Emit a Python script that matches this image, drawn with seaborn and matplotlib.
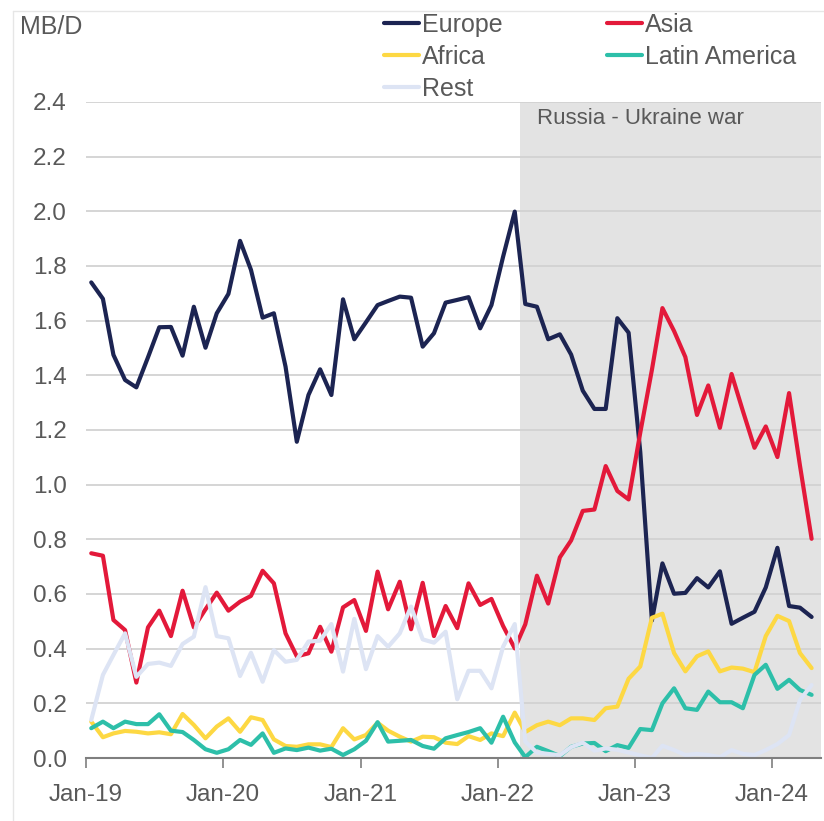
import numpy as np
import pandas as pd
import matplotlib
matplotlib.use("Agg")
import matplotlib.pyplot as plt
from matplotlib.lines import Line2D
import seaborn as sns

# monthly values, Jan-19 .. Apr-24 (MB/D)
europe = [1.74, 1.68, 1.475, 1.383, 1.356, 1.466, 1.576, 1.577, 1.472, 1.651,
          1.501, 1.627, 1.698, 1.892, 1.786, 1.611, 1.627, 1.432, 1.157, 1.328,
          1.422, 1.328, 1.678, 1.532, 1.594, 1.657, 1.672, 1.688, 1.684, 1.505,
          1.554, 1.666, 1.676, 1.686, 1.572, 1.657, 1.834, 1.999, 1.661, 1.651,
          1.532, 1.550, 1.476, 1.344, 1.277, 1.277, 1.609, 1.556, 1.12, 0.503,
          0.712, 0.601, 0.604, 0.658, 0.624, 0.683, 0.491, 0.513, 0.535, 0.624,
          0.769, 0.556, 0.550, 0.516]
asia = [0.749, 0.740, 0.505, 0.468, 0.276, 0.478, 0.539, 0.446, 0.612, 0.478,
        0.544, 0.605, 0.539, 0.572, 0.593, 0.685, 0.639, 0.456, 0.372, 0.383,
        0.480, 0.389, 0.551, 0.578, 0.465, 0.682, 0.544, 0.645, 0.471, 0.641,
        0.446, 0.556, 0.475, 0.639, 0.560, 0.582, 0.483, 0.401, 0.489, 0.667,
        0.565, 0.734, 0.796, 0.904, 0.909, 1.068, 0.977, 0.946, 1.19, 1.42,
        1.646, 1.562, 1.467, 1.255, 1.363, 1.208, 1.405, 1.270, 1.135, 1.213,
        1.101, 1.335, 1.07, 0.802]
africa = [0.133, 0.076, 0.090, 0.099, 0.096, 0.090, 0.094, 0.087, 0.161, 0.121,
          0.072, 0.115, 0.145, 0.096, 0.149, 0.139, 0.068, 0.044, 0.041, 0.05,
          0.05, 0.04, 0.109, 0.068, 0.084, 0.129, 0.100, 0.078, 0.060, 0.078,
          0.076, 0.056, 0.051, 0.080, 0.066, 0.090, 0.080, 0.166, 0.095, 0.120,
          0.133, 0.120, 0.145, 0.145, 0.139, 0.182, 0.188, 0.290, 0.335, 0.513,
          0.528, 0.384, 0.317, 0.372, 0.390, 0.317, 0.331, 0.327, 0.314, 0.446,
          0.520, 0.501, 0.384, 0.329]
latam = [0.109, 0.133, 0.109, 0.133, 0.124, 0.124, 0.160, 0.100, 0.095, 0.066,
         0.032, 0.019, 0.032, 0.066, 0.048, 0.090, 0.019, 0.035, 0.029, 0.038,
         0.027, 0.034, 0.011, 0.032, 0.063, 0.131, 0.060, 0.063, 0.066, 0.044,
         0.034, 0.072, 0.084, 0.095, 0.109, 0.056, 0.151, 0.057, 0.003, 0.041,
         0.025, 0.007, 0.041, 0.053, 0.055, 0.025, 0.047, 0.037, 0.106, 0.102,
         0.200, 0.255, 0.182, 0.176, 0.243, 0.204, 0.204, 0.182, 0.304, 0.341,
         0.253, 0.286, 0.249, 0.231]
rest = [0.139, 0.304, 0.377, 0.456, 0.297, 0.344, 0.349, 0.337, 0.417, 0.444,
        0.625, 0.446, 0.438, 0.300, 0.385, 0.279, 0.395, 0.352, 0.359, 0.426,
        0.429, 0.490, 0.316, 0.509, 0.325, 0.446, 0.407, 0.456, 0.554, 0.434,
        0.422, 0.462, 0.215, 0.319, 0.319, 0.255, 0.407, 0.490, 0.06, 0.02,
        0.015, 0.01, 0.04, 0.056, 0.027, 0.035, 0.03, 0.02, 0.01, 0.0,
        0.045, 0.029, 0.011, 0.015, 0.011, 0.003, 0.029, 0.015, 0.011, 0.029,
        0.051, 0.084, 0.212, 0.267]

regions = ["Europe", "Asia", "Africa", "Latin America", "Rest"]
colors = ["#1c2452", "#e3193a", "#fdd843", "#2dbfa9", "#dde4f4"]
years = [2019, 2020, 2021, 2022, 2023, 2024]

months = pd.date_range("2019-01-01", periods=len(europe), freq="MS") + pd.Timedelta(days=14)
wide = pd.DataFrame({"month": months, "Europe": europe, "Asia": asia,
                     "Africa": africa, "Latin America": latam, "Rest": rest})
df = wide.melt(id_vars="month", var_name="region", value_name="mbd")

sns.set_theme(style="white")
plt.rcParams["font.family"] = ["Liberation Sans", "DejaVu Sans"]
txt = "#595959"

fig = plt.figure(figsize=(8.24, 8.21), dpi=100)
ax = fig.add_axes([86 / 824, 1 - 758 / 821, 735 / 824, 656 / 821])

# war period shading
ax.axvspan(pd.Timestamp("2022-03-01"), pd.Timestamp("2024-05-10"), color="#e3e3e3", lw=0, zorder=0)

sns.lineplot(data=df, x="month", y="mbd", hue="region", hue_order=regions,
             palette=colors, lw=3, ax=ax, legend=False)

ax.set_xlim(pd.Timestamp("2019-01-01"), pd.Timestamp("2024-05-10"))
ax.set_ylim(0, 2.4)
yt = np.arange(0, 2.41, 0.2)
ax.set_yticks(yt)
ax.set_yticklabels([f"{v:.1f}" for v in yt])
ax.set_xticks([pd.Timestamp(f"{y}-01-01") for y in years])
ax.set_xticklabels([f"Jan-{str(y)[2:]}" for y in years])
ax.set_xlabel("")
ax.set_ylabel("")

ax.set_axisbelow(True)
ax.yaxis.grid(True, color="#d2d2d2", lw=1.3)
ax.xaxis.grid(False)
for s in ["left", "top", "right"]:
    ax.spines[s].set_visible(False)
ax.spines["bottom"].set_color("#7f7f7f")
ax.spines["bottom"].set_linewidth(1.5)
ax.tick_params(axis="x", bottom=True, direction="out", length=7, width=1.2,
               color="#7f7f7f", labelsize=17.5, labelcolor=txt, pad=12)
ax.tick_params(axis="y", left=False, labelsize=17.5, labelcolor=txt, pad=8)

# legend: first column Europe/Africa/Rest, second Asia/Latin America
order = ["Europe", "Africa", "Rest", "Asia", "Latin America"]
handles = [Line2D([], [], color=colors[regions.index(r)], lw=3) for r in order]
fig.legend(handles, order, loc="upper left", bbox_to_anchor=(384 / 824, 1 - 13 / 821),
           ncol=2, frameon=False, fontsize=18, labelcolor=txt, handlelength=1.4,
           handletextpad=0.1, columnspacing=4.2, labelspacing=0.32,
           borderpad=0, borderaxespad=0)

fig.text(20 / 824, 1 - 34 / 821, "MB/D", fontsize=18, color=txt, va="baseline")
fig.text(537 / 824, 1 - 118 / 821, "Russia - Ukraine war", fontsize=16, color=txt, va="center")

# faint outer frame
fig.add_artist(Line2D([13 / 824, 13 / 824], [0, 1 - 11 / 821], color="#e6e6e6", lw=1))
fig.add_artist(Line2D([13 / 824, 1], [1 - 11 / 821, 1 - 11 / 821], color="#e6e6e6", lw=1))

fig.savefig("out.png", dpi=100)
